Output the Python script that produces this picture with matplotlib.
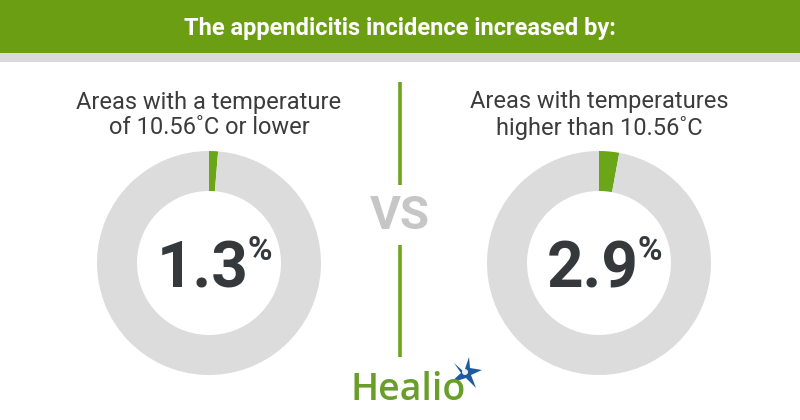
import matplotlib.pyplot as plt
from matplotlib.patches import Rectangle, Polygon, Circle

# data
title = "The appendicitis incidence increased by:"
group_labels = ["Areas with a temperature\nof 10.56˚C or lower",
                "Areas with temperatures\nhigher than 10.56˚C"]
pct_values = [1.3, 2.9]
pct_labels = ["1.3", "2.9"]

GREEN = "#6b9e12"
RING_GREEN = "#6aa617"
RING_GRAY = "#dcdcdc"
DARK = "#36393c"
TEXT = "#3c3c3c"

plt.rcParams["font.family"] = ["Roboto", "DejaVu Sans"]

W, H = 800, 420
fig = plt.figure(figsize=(8, 4.2), dpi=100)
ax = fig.add_axes([0, 0, 1, 1])
ax.set_xlim(0, W)
ax.set_ylim(H, 0)
ax.axis("off")

# header band
ax.add_patch(Rectangle((0, 0), W, 53, color=GREEN, lw=0))
ax.add_patch(Rectangle((0, 53), W, 9, color="#dadada", lw=0))
ax.text(400, 28, title, ha="center", va="center", color="white",
        fontsize=17, fontweight="bold")

# vs divider
ax.plot([400, 400], [82, 185], color=RING_GREEN, lw=2.6, solid_capstyle="butt")
ax.plot([400, 400], [245, 357], color=RING_GREEN, lw=2.6, solid_capstyle="butt")
ax.text(400, 216, "VS", ha="center", va="center", color="#c6c6c6",
        fontsize=34, fontweight="bold")

# donuts
centers = [209, 599]
cy, r_out, r_in = 263, 112, 72
fig.canvas.draw()
renderer = fig.canvas.get_renderer()
for cx, lab, val, txt in zip(centers, group_labels, pct_values, pct_labels):
    ax.text(cx, 115, lab, ha="center", va="center", color=TEXT,
            fontsize=17, linespacing=1.15)
    pax = fig.add_axes([(cx - r_out) / W, (H - cy - r_out) / H,
                        2 * r_out / W, 2 * r_out / H])
    pax.pie([val, 100 - val], colors=[RING_GREEN, RING_GRAY], startangle=90,
            counterclock=False, radius=1,
            wedgeprops=dict(width=1 - r_in / r_out, linewidth=0))
    pax.set_xlim(-1, 1)
    pax.set_ylim(-1, 1)
    pax.set_aspect("equal")
    pax.axis("off")
    num = pax.text(-0.06, -0.215, txt, ha="center", va="baseline",
                   color=DARK, fontsize=46, fontweight="bold")
    bb = num.get_window_extent(renderer=renderer)
    x_right = pax.transData.inverted().transform((bb.x1, 0))[0]
    pax.text(x_right - 0.005, 0.25, "%", ha="left", va="top",
             color=DARK, fontsize=24, fontweight="bold")

# Healio logo
ax.text(350, 400, "Healio", ha="left", va="baseline", color="#6a9e2a",
        fontsize=27, fontweight="semibold", family=["Open Sans", "DejaVu Sans"])
star = [(464, 372), (469, 357), (470, 368), (482, 370), (471, 375),
        (476, 388), (466, 378), (450, 383), (461, 373), (454, 363)]
ax.add_patch(Polygon(star, closed=True, color="#1d5b9e", lw=0))
ax.add_patch(Circle((465, 372), 3.0, color="#e8f0f8", lw=0))

fig.savefig("out.png", dpi=100)
